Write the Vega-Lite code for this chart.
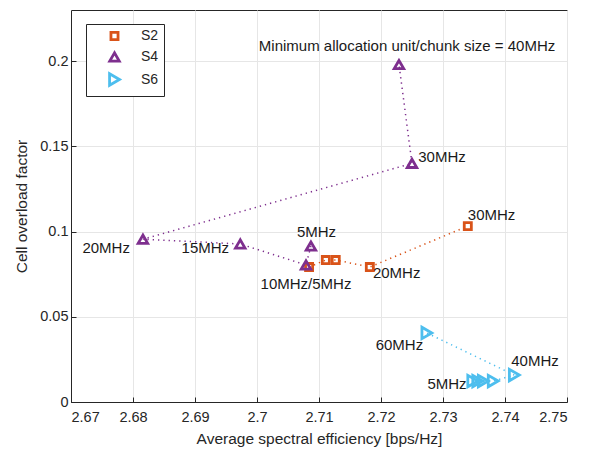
{
  "$schema": "https://vega.github.io/schema/vega-lite/v6.json",
  "width": 496,
  "height": 392,
  "autosize": {"type": "none"},
  "padding": {"left": 71, "top": 10, "right": 24, "bottom": 50},
  "background": "white",
  "config": {
    "font": "Liberation Sans",
    "view": {"stroke": "#262626", "strokeWidth": 1},
    "axis": {
      "gridColor": "#e6e6e6",
      "gridWidth": 1,
      "domainColor": "#262626",
      "tickColor": "#262626",
      "labelColor": "#262626",
      "titleColor": "#262626",
      "labelFontSize": 14.5,
      "titleFontSize": 15.5,
      "titleFontWeight": "normal",
      "labelFont": "Liberation Sans",
      "titleFont": "Liberation Sans"
    }
  },
  "datasets": {
    "pts": [
      {"series": "S2", "i": 1, "x": 2.7084, "y": 0.0792},
      {"series": "S2", "i": 2, "x": 2.7111, "y": 0.0833},
      {"series": "S2", "i": 3, "x": 2.7127, "y": 0.0833},
      {"series": "S2", "i": 4, "x": 2.7182, "y": 0.0792},
      {"series": "S2", "i": 5, "x": 2.7340, "y": 0.1032},
      {"series": "S4", "i": 1, "x": 2.7087, "y": 0.0915},
      {"series": "S4", "i": 2, "x": 2.7079, "y": 0.0804},
      {"series": "S4", "i": 3, "x": 2.6973, "y": 0.0927},
      {"series": "S4", "i": 4, "x": 2.6816, "y": 0.0955},
      {"series": "S4", "i": 5, "x": 2.7250, "y": 0.1400},
      {"series": "S4", "i": 6, "x": 2.7229, "y": 0.1980},
      {"series": "S6", "i": 1, "x": 2.7348, "y": 0.0123},
      {"series": "S6", "i": 2, "x": 2.7356, "y": 0.0123},
      {"series": "S6", "i": 3, "x": 2.7365, "y": 0.0123},
      {"series": "S6", "i": 4, "x": 2.7381, "y": 0.0123},
      {"series": "S6", "i": 5, "x": 2.7415, "y": 0.0158},
      {"series": "S6", "i": 6, "x": 2.7274, "y": 0.0405}
    ]
  },
  "layer": [
    {
      "data": {"name": "pts"},
      "mark": {"type": "line", "strokeDash": [1.3, 4], "strokeWidth": 1.5, "strokeCap": "butt"},
      "encoding": {
        "x": {"field": "x", "type": "quantitative", "scale": {"domain": [2.67, 2.75], "nice": false, "zero": false},
          "axis": {"values": [2.67, 2.68, 2.69, 2.7, 2.71, 2.72, 2.73, 2.74, 2.75], "labelExpr": "toString(datum.value)", "title": "Average spectral efficiency [bps/Hz]", "tickSize": -5, "labelPadding": 13, "titlePadding": 8}},
        "y": {"field": "y", "type": "quantitative", "scale": {"domain": [0, 0.23], "nice": false},
          "axis": {"values": [0, 0.05, 0.1, 0.15, 0.2], "labelExpr": "toString(datum.value)", "title": "Cell overload factor", "tickSize": -5, "labelPadding": 8, "titlePadding": 10}},
        "color": {"field": "series", "type": "nominal", "scale": {"domain": ["S2", "S4", "S6"], "range": ["#D95319", "#7E2F8E", "#4DBEEE"]}},
        "detail": {"field": "series"},
        "order": {"field": "i", "type": "quantitative"}
      }
    },
    {
      "data": {"name": "pts"},
      "mark": {"type": "point", "filled": false, "strokeWidth": 2.8, "opacity": 1},
      "encoding": {
        "x": {"field": "x", "type": "quantitative"},
        "y": {"field": "y", "type": "quantitative"},
        "color": {"field": "series", "type": "nominal", "scale": {"domain": ["S2", "S4", "S6"], "range": ["#D95319", "#7E2F8E", "#4DBEEE"]},
          "legend": {"title": null, "orient": "none", "legendX": 15, "legendY": 14, "strokeColor": "#262626", "fillColor": "white", "padding": 5, "symbolOffset": 16, "labelOffset": 19, "labelFontSize": 14, "labelColor": "#262626", "rowPadding": 1, "symbolStrokeWidth": 2.8, "symbolSize": 75, "labelFont": "Liberation Sans"}},
        "shape": {"field": "series", "type": "nominal", "scale": {"domain": ["S2", "S4", "S6"], "range": ["square", "triangle-up", "triangle-right"]}},
        "size": {"field": "series", "type": "nominal", "scale": {"domain": ["S2", "S4", "S6"], "range": [50, 130, 130]}, "legend": null}
      }
    },
    {
      "data": {"values": [
        {"x": 2.7242, "y": 0.2088, "t": "Minimum allocation unit/chunk size = 40MHz"},
        {"x": 2.7079, "y": 0.0693, "t": "10MHz/5MHz"},
        {"x": 2.7096, "y": 0.1000, "t": "5MHz"}
      ]},
      "mark": {"type": "text", "align": "center", "baseline": "middle", "fontSize": 15, "color": "#1a1a1a", "font": "Liberation Sans"},
      "encoding": {
        "x": {"field": "x", "type": "quantitative"},
        "y": {"field": "y", "type": "quantitative"},
        "text": {"field": "t"}
      }
    },
    {
      "data": {"values": [
        {"x": 2.7260, "y": 0.1437, "t": "30MHz"},
        {"x": 2.7187, "y": 0.0757, "t": "20MHz"},
        {"x": 2.7340, "y": 0.1097, "t": "30MHz"},
        {"x": 2.7410, "y": 0.0240, "t": "40MHz"}
      ]},
      "mark": {"type": "text", "align": "left", "baseline": "middle", "fontSize": 15, "color": "#1a1a1a", "font": "Liberation Sans"},
      "encoding": {
        "x": {"field": "x", "type": "quantitative"},
        "y": {"field": "y", "type": "quantitative"},
        "text": {"field": "t"}
      }
    },
    {
      "data": {"values": [
        {"x": 2.6795, "y": 0.0903, "t": "20MHz"},
        {"x": 2.6955, "y": 0.0903, "t": "15MHz"},
        {"x": 2.7268, "y": 0.0334, "t": "60MHz"},
        {"x": 2.7338, "y": 0.0106, "t": "5MHz"}
      ]},
      "mark": {"type": "text", "align": "right", "baseline": "middle", "fontSize": 15, "color": "#1a1a1a", "font": "Liberation Sans"},
      "encoding": {
        "x": {"field": "x", "type": "quantitative"},
        "y": {"field": "y", "type": "quantitative"},
        "text": {"field": "t"}
      }
    }
  ]
}
